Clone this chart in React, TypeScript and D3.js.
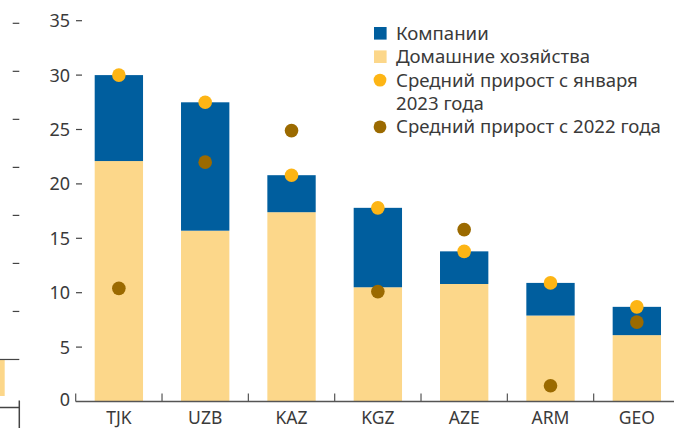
import * as d3 from "d3";
import React from "react";

const countries = ["TJK", "UZB", "KAZ", "KGZ", "AZE", "ARM", "GEO"];
const households = [22.1, 15.7, 17.4, 10.5, 10.8, 7.9, 6.1];
const companies = [7.9, 11.8, 3.4, 7.3, 3.0, 3.0, 2.6];
const growthJan2023 = [30.0, 27.5, 20.8, 17.8, 13.8, 10.9, 8.7];
const growthSince2022 = [10.4, 22.0, 24.9, 10.1, 15.8, 1.45, 7.3];
const yTicks = [0, 5, 10, 15, 20, 25, 30, 35];

const legendItems = [
    { kind: "rect", color: "#005e9e", lines: ["Компании"] },
    { kind: "rect", color: "#fcd78a", lines: ["Домашние хозяйства"] },
    { kind: "dot", color: "#fdb515", lines: ["Средний прирост с января", "2023 года"] },
    { kind: "dot", color: "#9b6a00", lines: ["Средний прирост с 2022 года"] },
];

// stub of the neighbouring panel that is cut off on the left
const neighbourTicks = [2, 3, 4, 5, 6, 7, 8];
const neighbourBar = 0.24;

const W = 674;
const H = 428;
const font = "'Noto Sans', sans-serif";
const textColor = "#3a3a3a";

export default function App() {
    const attr = { left: 75.7, right: 680, top: 20.7, bottom: 401.5 };

    const x = d3.scaleBand()
        .domain(countries)
        .range([attr.left, attr.right])
        .paddingInner(0.44)
        .paddingOuter(0.22);

    const y = d3.scaleLinear()
        .domain([0, 35])
        .range([attr.bottom, attr.top]);

    const yn = d3.scaleLinear()
        .domain([0, 8])
        .range([407.5, 23.3]);

    const step = x.step();
    const bounds = countries.map((_, i) => attr.left + i * step);

    const rows = countries.map((c, i) => ({
        c,
        h: households[i],
        k: companies[i],
        g23: growthJan2023[i],
        g22: growthSince2022[i],
    }));

    const lineH = 23.4;
    let row = 0;

    return (
        <svg width={W} height={H} style={{ position: "absolute", left: 0, top: 0 }}
             fontFamily={font}>
            {/* neighbour panel */}
            <rect x={0} width={4.7} y={yn(1)} height={yn(neighbourBar) - yn(1)} fill="#fcd78a" />
            <g stroke="#444" strokeWidth={1.2}>
                {neighbourTicks.map(t => (
                    <line key={t} x1={12.7} x2={19.3} y1={yn(t)} y2={yn(t)} />
                ))}
                <line x1={0} x2={19.3} y1={yn(1)} y2={yn(1)} />
                <line x1={0} x2={19.3} y1={yn(0)} y2={yn(0)} strokeWidth={1.5} />
                <line x1={19.3} x2={19.3} y1={yn(0) - 7} y2={H} strokeWidth={1.5} />
            </g>

            {/* y axis ticks */}
            {yTicks.map(t => (
                <g key={t}>
                    {t > 0 && <line x1={76} x2={82} y1={y(t)} y2={y(t)} stroke="#444" strokeWidth={1.2} />}
                    <text x={70} y={t === 0 ? y(t) - 2 : y(t)} dy="0.36em" textAnchor="end" fontSize={18}
                          fill={textColor}>{t}</text>
                </g>
            ))}

            {/* bars */}
            {rows.map(d => (
                <g key={d.c}>
                    <rect x={x(d.c)} width={x.bandwidth()} y={y(d.h)} height={y(0) - y(d.h)}
                          fill="#fcd78a" />
                    <rect x={x(d.c)} width={x.bandwidth()} y={y(d.h + d.k)}
                          height={y(d.h) - y(d.h + d.k)} fill="#005e9e" />
                </g>
            ))}

            {/* dots */}
            {rows.map(d => (
                <g key={d.c + "dots"}>
                    <circle cx={x(d.c) + x.bandwidth() / 2} cy={y(d.g23)} r={6.8} fill="#fdb515" />
                    <circle cx={x(d.c) + x.bandwidth() / 2} cy={y(d.g22)} r={6.8} fill="#9b6a00" />
                </g>
            ))}

            {/* x axis */}
            <line x1={attr.left} x2={W} y1={attr.bottom} y2={attr.bottom} stroke="#555" strokeWidth={1.5} />
            {bounds.map(b => (
                <line key={b} x1={b} x2={b} y1={attr.bottom} y2={attr.bottom - 8} stroke="#555" strokeWidth={1.2} />
            ))}
            {countries.map(c => (
                <text key={c} x={x(c) + x.bandwidth() / 2} y={424} textAnchor="middle"
                      fontSize={17.5} fill={textColor}>{c}</text>
            ))}

            {/* legend */}
            {legendItems.map(item => {
                const cy = 33.3 + row * lineH;
                row += item.lines.length;
                return (
                    <g key={item.lines[0]}>
                        {item.kind === "rect"
                            ? <rect x={374} y={cy - 6.3} width={12.6} height={12.6} fill={item.color} />
                            : <circle cx={380} cy={cy} r={6.4} fill={item.color} />}
                        {item.lines.map((l, j) => (
                            <text key={l} x={396} y={cy + 6.5 + j * lineH} fontSize={18.6}
                                  fill={textColor}>{l}</text>
                        ))}
                    </g>
                );
            })}
        </svg>
    );
}
